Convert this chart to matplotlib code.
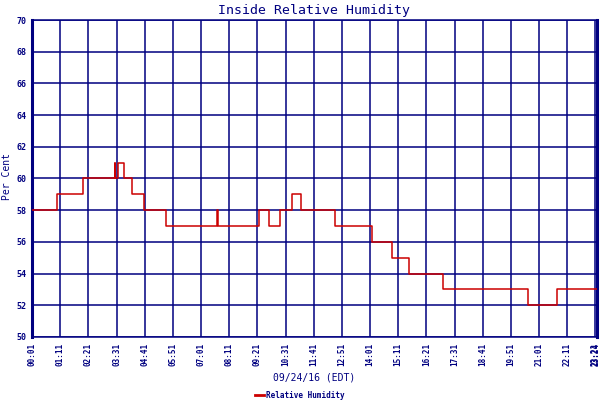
"""
Inside relative humidity, 09/24/16 - weather station style step chart
"""

import matplotlib
matplotlib.use('Agg')
import matplotlib.pyplot as plt

NAVY = '#000080'
RED = '#cc0000'

# step changes: minute of day -> humidity (%)
times = [1, 63, 128, 207, 208, 215, 230, 249, 280, 334, 461, 462, 566,
         590, 618, 647, 670, 753, 845, 895, 939, 1023, 1234, 1305, 1404]
humidity = [58, 59, 60, 61, 60, 61, 60, 59, 58, 57, 58, 57, 58,
            57, 58, 59, 58, 57, 56, 55, 54, 53, 52, 53, 53]

x_tick_labels = ['00:01', '01:11', '02:21', '03:31', '04:41', '05:51', '07:01',
                 '08:11', '09:21', '10:31', '11:41', '12:51', '14:01', '15:11',
                 '16:21', '17:31', '18:41', '19:51', '21:01', '22:11', '23:21',
                 '23:24']
y_ticks = [50, 52, 54, 56, 58, 60, 62, 64, 66, 68, 70]


def to_minutes(label):
    h, m = label.split(':')
    return int(h) * 60 + int(m)


x_ticks = [to_minutes(t) for t in x_tick_labels]

mono = 'DejaVu Sans Mono'

fig = plt.figure(figsize=(6, 4), dpi=100)
ax = fig.add_axes([32 / 600, 63 / 400, 565 / 600, 317 / 400])

ax.step(times, humidity, where='post', color=RED, linewidth=1.1, zorder=3,
        label='Relative Humidity')

ax.set_xlim(1, 1405)
ax.set_ylim(50, 70)

ax.set_xticks(x_ticks)
ax.set_xticklabels(x_tick_labels, rotation=90, fontsize=5.5,
                   fontweight='bold', family=mono, color=NAVY)
ax.set_yticks(y_ticks)
ax.set_yticklabels([str(v) for v in y_ticks], fontsize=6,
                   fontweight='bold', family=mono, color=NAVY)
ax.tick_params(axis='both', length=0, pad=4)

ax.grid(True, color=NAVY, linewidth=1.1)
ax.set_axisbelow(True)

for side in ['top', 'bottom']:
    ax.spines[side].set_color(NAVY)
    ax.spines[side].set_linewidth(1.1)
for side in ['left', 'right']:
    ax.spines[side].set_color(NAVY)
    ax.spines[side].set_linewidth(2.2)

ax.set_title('Inside Relative Humidity', fontsize=9.5, family=mono,
             color=NAVY, pad=4)

fig.text(7 / 600, 1 - 177 / 400, 'Per Cent', rotation=90, ha='center',
         va='center', fontsize=7, family=mono, color=NAVY)
fig.text(314 / 600, 1 - 378 / 400, '09/24/16 (EDT)', ha='center',
         va='center', fontsize=7, family=mono, color=NAVY)

leg = fig.legend(loc='center', bbox_to_anchor=(300 / 600, 1 - 395 / 400),
                 frameon=False, handlelength=1.2, handletextpad=0.3,
                 prop={'family': mono, 'size': 5.5, 'weight': 'bold'})
for t in leg.get_texts():
    t.set_color(NAVY)
for line in leg.get_lines():
    line.set_linewidth(2)

fig.savefig('out.png', dpi=100, facecolor='white')
plt.close(fig)
